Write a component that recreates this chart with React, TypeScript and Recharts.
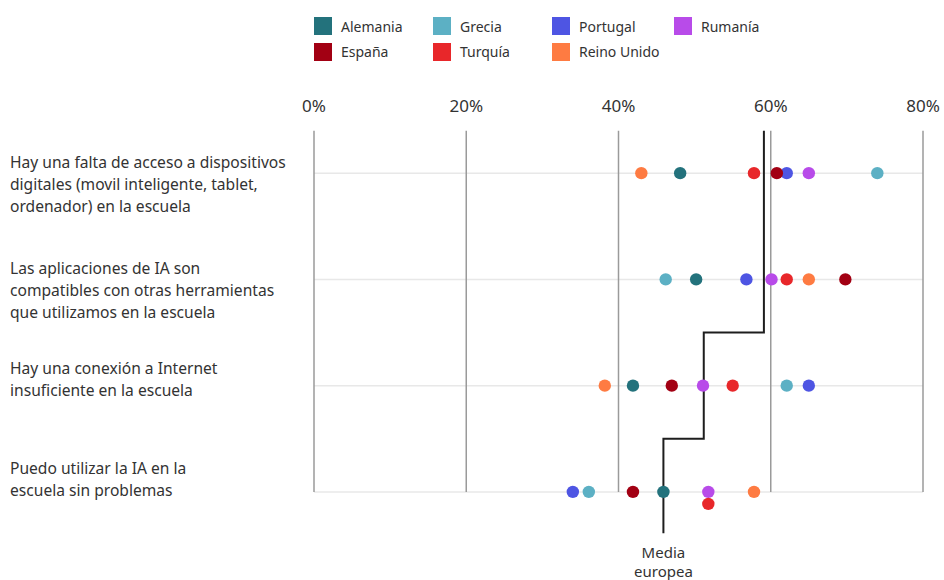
import { ScatterChart, Scatter, XAxis, YAxis, ReferenceLine } from 'recharts';

const categories = [
    ['Hay una falta de acceso a dispositivos', 'digitales (movil inteligente, tablet,', 'ordenador) en la escuela'],
    ['Las aplicaciones de IA son', 'compatibles con otras herramientas', 'que utilizamos en la escuela'],
    ['Hay una conexión a Internet', 'insuficiente en la escuela'],
    ['Puedo utilizar la IA en la', 'escuela sin problemas'],
];

const alemania = [48.1, 50.2, 41.9, 45.9];
const grecia = [74.0, 46.2, 62.1, 36.1];
const portugal = [62.1, 56.8, 65.0, 34.0];
const rumania = [65.0, 60.1, 51.1, 51.8];
const espana = [60.8, 69.8, 47.0, 41.9];
const turquia = [57.8, 62.1, 55.0, 51.8];
const reinoUnido = [43.0, 65.0, 38.2, 57.8];

const mediaEuropea = [59.1, 59.1, 51.2, 45.9];

const xTicks = [0, 20, 40, 60, 80];

const FONT = '"Noto Sans", sans-serif';
const TEXT = '#333333';

const series = [
    { name: 'Alemania', color: '#23727c', values: alemania },
    { name: 'Grecia', color: '#5cb0c4', values: grecia },
    { name: 'Portugal', color: '#4e55e3', values: portugal },
    { name: 'Rumanía', color: '#b84be9', values: rumania },
    { name: 'España', color: '#a20013', values: espana },
    { name: 'Turquía', color: '#e8272a', values: turquia },
    { name: 'Reino Unido', color: '#fe7b42', values: reinoUnido },
];

// dots that would sit exactly on an earlier one get pushed down a bit
const seriesData = series.map((s, si) =>
    s.values.map((v, row) => ({
        x: v,
        y: row,
        stacked: series.slice(0, si).some((o) => Math.abs(o.values[row] - v) < 0.5),
    }))
);

// step line for the european average: top of plot -> between rows -> bottom
const meanTop = -0.4;
const meanBottom = 3.39;
const meanPoints: { x: number; y: number; last?: boolean }[] = [];
mediaEuropea.forEach((m, i) => {
    meanPoints.push({ x: m, y: i === 0 ? meanTop : i - 0.5 });
    meanPoints.push({ x: m, y: i === mediaEuropea.length - 1 ? meanBottom : i + 0.5, last: i === mediaEuropea.length - 1 });
});

const labelShift = [-5, -5, -12, -18];

function CategoryTick(props: any) {
    const { y, payload } = props;
    const idx = payload.value as number;
    const lines = categories[idx] || [];
    return (
        <text x={10} y={y + labelShift[idx]} fill={TEXT} fontSize={15.6} fontFamily={FONT} textAnchor="start">
            {lines.map((l, i) => (
                <tspan key={i} x={10} dy={i === 0 ? 0 : 22}>
                    {l}
                </tspan>
            ))}
        </text>
    );
}

function makeDot(color: string) {
    return (props: any) => {
        const { cx, cy, payload } = props;
        const shift = payload && payload.stacked ? 12 : 0;
        return <circle cx={cx} cy={cy + shift} r={6.2} fill={color} />;
    };
}

function MeanShape(props: any) {
    const { cx, cy, payload } = props;
    if (!payload || !payload.last) return <g />;
    return (
        <text x={cx} y={cy + 25} fill={TEXT} fontSize={15} fontFamily={FONT} textAnchor="middle">
            <tspan x={cx} dy={0}>Media</tspan>
            <tspan x={cx} dy={19}>europea</tspan>
        </text>
    );
}

function LegendBox() {
    const cols = [0, 119, 238, 360];
    return (
        <div style={styles.legend}>
            {series.map((s, i) => (
                <div
                    key={s.name}
                    style={{
                        ...styles.legendItem,
                        left: cols[i % 4],
                        top: i < 4 ? 0 : 25.5,
                    }}
                >
                    <span style={{ ...styles.swatch, background: s.color }} />
                    <span>{s.name}</span>
                </div>
            ))}
        </div>
    );
}

export default function App() {
    return (
        <div style={styles.page}>
            <LegendBox />
            <ScatterChart width={944} height={580} margin={{ top: 90, right: 21, bottom: 35, left: 0 }}>
                <XAxis
                    type="number"
                    dataKey="x"
                    orientation="top"
                    domain={[0, 80]}
                    ticks={xTicks}
                    axisLine={false}
                    tickLine={false}
                    tickFormatter={(v) => `${v}%`}
                    tick={{ fill: TEXT, fontSize: 17, fontFamily: FONT }}
                />
                <YAxis
                    type="number"
                    dataKey="y"
                    domain={[-0.5, 3.5]}
                    ticks={[0, 1, 2, 3]}
                    reversed
                    width={314}
                    axisLine={false}
                    tickLine={false}
                    tick={<CategoryTick />}
                />
                {categories.map((_, i) => (
                    <ReferenceLine key={'h' + i} y={i} stroke="#e8e8e8" strokeWidth={1.5} />
                ))}
                {xTicks.map((t) => (
                    <ReferenceLine
                        key={'v' + t}
                        segment={[
                            { x: t, y: -0.4 },
                            { x: t, y: 3 },
                        ]}
                        stroke="#9a9a9a"
                        strokeWidth={1.5}
                    />
                ))}
                <Scatter
                    data={meanPoints}
                    line={{ stroke: '#1e1e1e', strokeWidth: 2 }}
                    lineType="joint"
                    shape={MeanShape}
                    isAnimationActive={false}
                />
                {series.map((s, i) => (
                    <Scatter
                        key={s.name}
                        name={s.name}
                        data={seriesData[i]}
                        fill={s.color}
                        shape={makeDot(s.color)}
                        isAnimationActive={false}
                    />
                ))}
            </ScatterChart>
        </div>
    );
}

const styles: Record<string, React.CSSProperties> = {
    page: {
        position: 'absolute',
        left: 0,
        top: 0,
        width: 944,
        height: 580,
        background: '#fff',
        fontFamily: FONT,
    },
    legend: {
        position: 'absolute',
        left: 314,
        top: 17,
        width: 500,
        height: 50,
        zIndex: 1,
    },
    legendItem: {
        position: 'absolute',
        display: 'flex',
        alignItems: 'center',
        height: 18,
        fontSize: 14,
        color: TEXT,
        whiteSpace: 'nowrap',
    },
    swatch: {
        display: 'inline-block',
        width: 18,
        height: 18,
        marginRight: 9,
    },
};
